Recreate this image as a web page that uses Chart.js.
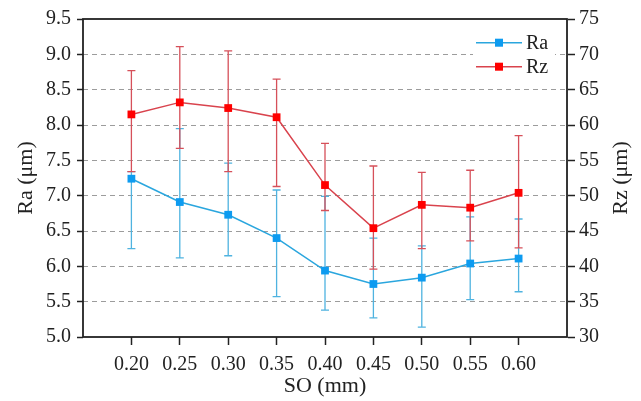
<!DOCTYPE html>
<html>
<head>
<meta charset="utf-8">
<script src="https://cdn.jsdelivr.net/npm/chart.js@4.4.0/dist/chart.umd.min.js"></script>
<style>
  html, body { margin: 0; padding: 0; background: #fff; }
  #wrap { width: 641px; height: 401px; }
</style>
</head>
<body>
<div id="wrap"><canvas id="chart" width="641" height="401"></canvas></div>
<script>
// SO (mm) values on the x axis
const soValues = [0.20, 0.25, 0.30, 0.35, 0.40, 0.45, 0.50, 0.55, 0.60];

// Ra (um), left axis: mean and error bar ends
const raMean = [7.24, 6.91, 6.73, 6.40, 5.94, 5.75, 5.84, 6.04, 6.11];
const raLow  = [6.25, 6.12, 6.15, 5.57, 5.38, 5.27, 5.14, 5.53, 5.64];
const raHigh = [7.34, 7.95, 7.46, 7.08, 6.99, 6.40, 6.29, 6.70, 6.67];

// Rz (um), right axis: mean and error bar ends
const rzMean = [61.5, 63.2, 62.4, 61.1, 51.5, 45.4, 48.7, 48.3, 50.4];
const rzLow  = [53.4, 56.7, 53.4, 51.3, 47.9, 39.6, 42.5, 43.6, 42.6];
const rzHigh = [67.7, 71.1, 70.5, 66.5, 57.4, 54.2, 53.3, 53.6, 58.5];

// tick labels
const raTicks = [5.0, 5.5, 6.0, 6.5, 7.0, 7.5, 8.0, 8.5, 9.0, 9.5];
const rzTicks = [30, 35, 40, 45, 50, 55, 60, 65, 70, 75];

const FONT = "'Liberation Serif', 'Times New Roman', serif";
const BLUE = '#2aa6de';
const BLUE_PT = '#0d9bf0';
const RED = '#d9434d';
const RED_PT = '#ff0000';
const GRID = '#9c9c9c';

// draws error bars from the errLow / errHigh arrays kept on each dataset
const errorBars = {
  id: 'errorBars',
  beforeDatasetsDraw(chart) {
    const ctx = chart.ctx;
    const xs = chart.scales.x;
    chart.data.datasets.forEach(ds => {
      const ys = chart.scales[ds.yAxisID];
      ctx.save();
      ctx.strokeStyle = ds.barColor;
      ctx.lineWidth = 1.3;
      ds.data.forEach((p, i) => {
        const x = xs.getPixelForValue(p.x);
        const yl = ys.getPixelForValue(ds.errLow[i]);
        const yh = ys.getPixelForValue(ds.errHigh[i]);
        ctx.beginPath();
        ctx.moveTo(x, yl); ctx.lineTo(x, yh);
        ctx.moveTo(x - 4, yl); ctx.lineTo(x + 4, yl);
        ctx.moveTo(x - 4, yh); ctx.lineTo(x + 4, yh);
        ctx.stroke();
      });
      ctx.restore();
    });
  }
};

// frame round the plot, the legend in the upper right, right axis title
const frameAndLegend = {
  id: 'frameAndLegend',
  afterDraw(chart) {
    const ctx = chart.ctx;
    const a = chart.chartArea;
    ctx.save();
    ctx.strokeStyle = '#222';
    ctx.lineWidth = 1.8;
    ctx.strokeRect(a.left, a.top, a.right - a.left, a.bottom - a.top);

    // legend
    ctx.fillStyle = '#fff';
    ctx.fillRect(473, 30, 82, 48);
    ctx.font = '20px ' + FONT;
    ctx.textBaseline = 'middle';
    const rows = [42.7, 66.7];
    chart.data.datasets.forEach((ds, i) => {
      const y = rows[i];
      ctx.strokeStyle = ds.borderColor;
      ctx.lineWidth = 1.5;
      ctx.beginPath();
      ctx.moveTo(476, y); ctx.lineTo(522, y);
      ctx.stroke();
      ctx.fillStyle = ds.pointBackgroundColor;
      ctx.fillRect(495, y - 4, 8, 8);
      ctx.fillStyle = '#222';
      ctx.fillText(ds.label, 526, y + 1);
    });

    // right axis title, reading bottom to top like the left one
    ctx.translate(621, (a.top + a.bottom) / 2);
    ctx.rotate(-Math.PI / 2);
    ctx.font = '22px ' + FONT;
    ctx.textAlign = 'center';
    ctx.textBaseline = 'middle';
    ctx.fillStyle = '#222';
    ctx.fillText('Rz (\u03bcm)', 0, 0);
    ctx.restore();
  }
};

const raData = soValues.map((x, i) => ({ x: x, y: raMean[i] }));
const rzData = soValues.map((x, i) => ({ x: x, y: rzMean[i] }));

new Chart(document.getElementById('chart'), {
  type: 'line',
  data: {
    datasets: [
      {
        label: 'Ra', data: raData, yAxisID: 'y', order: 1,
        errLow: raLow, errHigh: raHigh, barColor: '#4fb3e0',
        borderColor: BLUE, borderWidth: 1.5, tension: 0,
        pointStyle: 'rect', pointRadius: 5.5,
        pointBackgroundColor: BLUE_PT, pointBorderColor: BLUE_PT, pointBorderWidth: 0
      },
      {
        label: 'Rz', data: rzData, yAxisID: 'y1', order: 0,
        errLow: rzLow, errHigh: rzHigh, barColor: '#d6505a',
        borderColor: RED, borderWidth: 1.5, tension: 0,
        pointStyle: 'rect', pointRadius: 5.5,
        pointBackgroundColor: RED_PT, pointBorderColor: RED_PT, pointBorderWidth: 0
      }
    ]
  },
  options: {
    responsive: false,
    animation: false,
    layout: { padding: { top: 19, left: 0, right: 0, bottom: 0 } },
    plugins: { legend: { display: false }, tooltip: { enabled: false } },
    scales: {
      x: {
        type: 'linear', min: 0.15, max: 0.65,
        afterBuildTicks: s => { s.ticks = soValues.map(v => ({ value: v })); },
        afterFit: s => { s.height = 64; },
        ticks: {
          color: '#222', font: { family: FONT, size: 20 }, padding: 8,
          autoSkip: false, maxRotation: 0,
          callback: v => Number(v).toFixed(2)
        },
        grid: { drawOnChartArea: false, drawTicks: true, tickLength: 8, tickColor: '#222', tickWidth: 1.5 },
        border: { display: false },
        title: {
          display: true, text: 'SO (mm)', color: '#222',
          font: { family: FONT, size: 22 }, padding: { top: 0, bottom: 2 }
        }
      },
      y: {
        position: 'left', min: 5, max: 9.5,
        afterBuildTicks: s => { s.ticks = raTicks.map(v => ({ value: v })); },
        afterFit: s => { s.width = 83; },
        ticks: {
          color: '#222', font: { family: FONT, size: 20 }, padding: 6,
          callback: v => Number(v).toFixed(1)
        },
        grid: {
          color: c => (c.tick && c.tick.value > 5.01 && c.tick.value < 9.49) ? GRID : 'rgba(0,0,0,0)',
          lineWidth: 1, tickLength: 6, tickColor: '#222', tickWidth: 1.5, tickBorderDash: []
        },
        border: { display: false, dash: [5, 4] },
        title: {
          display: true, text: 'Ra (\u03bcm)', color: '#222',
          font: { family: FONT, size: 22 }, padding: { top: 13, bottom: 0 }
        }
      },
      y1: {
        position: 'right', min: 30, max: 75,
        afterBuildTicks: s => { s.ticks = rzTicks.map(v => ({ value: v })); },
        afterFit: s => { s.width = 74; },
        ticks: { color: '#222', font: { family: FONT, size: 20 }, padding: 4 },
        grid: { drawOnChartArea: false, tickLength: 8, tickColor: '#222', tickWidth: 1.5 }
      }
    }
  },
  plugins: [errorBars, frameAndLegend]
});
</script>
</body>
</html>
